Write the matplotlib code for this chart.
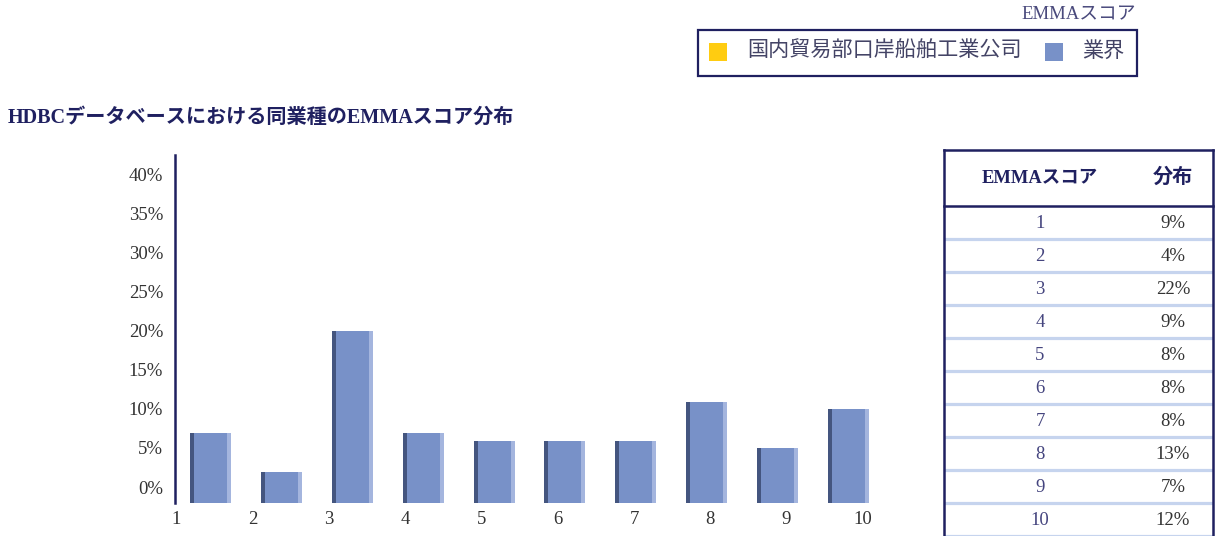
import matplotlib
matplotlib.use('Agg')
import matplotlib.pyplot as plt
from matplotlib.patches import Rectangle
from matplotlib.transforms import ScaledTranslation
import numpy as np

plt.rcParams['font.family'] = ['Liberation Serif', 'Noto Sans CJK JP']

# ---------------- data ----------------
scores = [1, 2, 3, 4, 5, 6, 7, 8, 9, 10]
industry_pct = [9, 4, 22, 9, 8, 8, 8, 13, 7, 12]
ytick_vals = [0, 5, 10, 15, 20, 25, 30, 35, 40]
legend_labels = ['国内貿易部口岸船舶工業公司', '業界']
legend_title = 'EMMAスコア'
chart_title = 'HDBCデータベースにおける同業種のEMMAスコア分布'
table_headers = ['EMMAスコア', '分布']

# ---------------- style ----------------
W, H = 1218, 536
NAVY = '#1f2060'
BAR = '#7891c8'
DARK = '#44557f'
LIGHT = '#a4b5de'
YELLOW = '#ffcc11'
SEP = '#c6d4ee'
TXT = '#333333'
NUM = '#45457f'

fig = plt.figure(figsize=(W / 100, H / 100), dpi=100)


def fx(px):
    return px / W


def fy(py):
    return 1 - py / H


# ---------------- title ----------------
fig.text(fx(8), fy(118), chart_title, fontsize=14.5, fontweight='bold',
         color=NAVY, ha='left', va='center')

# ---------------- legend ----------------
fig.text(fx(1136), fy(15), legend_title, fontsize=13.5, color='#4a4a7c',
         ha='right', va='center')
fig.patches.append(Rectangle((fx(698), fy(76)), fx(1137) - fx(698), fy(30) - fy(76),
                             transform=fig.transFigure, fill=False,
                             edgecolor=NAVY, linewidth=1.6))
for (sx, tx), lab, col in zip([(709, 747), (1045, 1082)], legend_labels, [YELLOW, BAR]):
    fig.patches.append(Rectangle((fx(sx), fy(61)), fx(sx + 18) - fx(sx), fy(43) - fy(61),
                                 transform=fig.transFigure, facecolor=col,
                                 edgecolor='none'))
    fig.text(fx(tx), fy(52), lab, fontsize=15.2, color='#444466',
             ha='left', va='center')

# ---------------- bar chart ----------------
ax = fig.add_axes([fx(175), fy(503), fx(884) - fx(175), fy(155) - fy(503)])
x = np.arange(len(scores))
vals = np.array(industry_pct) / 100
bw = 0.578
sw = 0.056
ax.bar(x, vals, width=bw, color=BAR, linewidth=0)
ax.bar(x - bw / 2, vals, width=sw, align='edge', color=DARK, linewidth=0)
ax.bar(x + bw / 2 - sw, vals, width=sw, align='edge', color=LIGHT, linewidth=0)
ax.set_xlim(-0.5, 9.5)
ax.set_ylim(0, 0.446)

for s in ['top', 'right', 'bottom']:
    ax.spines[s].set_visible(False)
ax.spines['left'].set_color(NAVY)
ax.spines['left'].set_linewidth(1.8)

ax.set_yticks(np.array(ytick_vals) / 100, [f'{v}%' for v in ytick_vals])
ax.tick_params(axis='y', length=0, pad=8.5, labelsize=13.5, labelcolor=TXT)
for lbl in ax.get_yticklabels():
    lbl.set_transform(lbl.get_transform() + ScaledTranslation(0, 16 / 100, fig.dpi_scale_trans))

xtick_pos = np.linspace(-0.48, 9.2, len(scores))
ax.set_xticks(xtick_pos, [str(s) for s in scores])
ax.tick_params(axis='x', length=0, pad=5.5, labelsize=13.5, labelcolor=TXT)

# ---------------- table ----------------
tx0, tx1, ty0, ty1 = 944, 1213, 150, 536
tab = fig.add_axes([fx(tx0), fy(ty1), fx(tx1) - fx(tx0), fy(ty0) - fy(ty1)])
tab.set_xlim(0, tx1 - tx0)
tab.set_ylim(ty1 - ty0, 0)
tab.axis('off')
head_h = 56
row_h = 33
c1, c2 = 1040 - tx0, 1173 - tx0

tab.text(c1, head_h / 2, table_headers[0], fontsize=13.3, fontweight='bold',
         color=NAVY, ha='center', va='center')
tab.text(c2, head_h / 2, table_headers[1], fontsize=14.5, fontweight='bold',
         color=NAVY, ha='center', va='center')
for i, (s, v) in enumerate(zip(scores, industry_pct)):
    yc = head_h + row_h * i + row_h / 2 + 1
    tab.text(c1, yc, str(s), fontsize=13.5, color=NUM, ha='center', va='center')
    tab.text(c2, yc, f'{v}%', fontsize=13.5, color=TXT, ha='center', va='center')
    tab.plot([0, tx1 - tx0], [head_h + row_h * (i + 1)] * 2, color=SEP,
             linewidth=2.3, clip_on=False, solid_capstyle='butt')

tab.plot([0, tx1 - tx0], [0, 0], color=NAVY, linewidth=1.8, clip_on=False)
tab.plot([0, tx1 - tx0], [head_h, head_h], color=NAVY, linewidth=1.8, clip_on=False)
tab.plot([0, 0], [0, ty1 - ty0], color=NAVY, linewidth=1.8, clip_on=False)
tab.plot([tx1 - tx0, tx1 - tx0], [0, ty1 - ty0], color=NAVY, linewidth=1.8, clip_on=False)

fig.savefig('out.png', dpi=100)
